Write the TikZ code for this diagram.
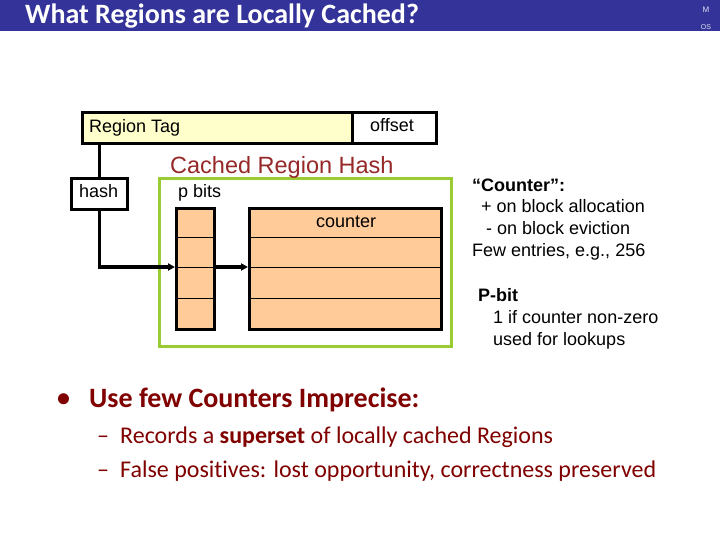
\documentclass[tikz,border=0pt]{standalone}
\usepackage{fontspec}
\setmainfont{Liberation Sans}
\newfontfamily\calib[Ligatures=NoCommon]{Carlito}
\usetikzlibrary{arrows.meta}
\definecolor{titlebar}{RGB}{51,51,153}
\definecolor{tagfill}{RGB}{255,255,204}
\definecolor{cellfill}{RGB}{255,204,153}
\definecolor{greenbox}{RGB}{153,204,51}
\definecolor{hashred}{RGB}{150,40,40}
\definecolor{bulletred}{RGB}{128,0,0}
\tikzset{
  fld/.style={draw, line width=3.3pt, inner sep=0pt, anchor=north west},
  lbl/.style={inner sep=0pt, anchor=base west, font=\fontsize{18}{21}\selectfont},
  thick3/.style={line width=3.3pt},
  tip/.style={-{Triangle[length=7pt,width=7pt]}},
  rowline/.style={line width=1pt},
  btext/.style={inner sep=0pt, anchor=base west, text=bulletred},
}
\begin{document}
\begin{tikzpicture}[x=1pt,y=-1pt]
\useasboundingbox (0,0) rectangle (720,540);
\fill[white] (0,0) rectangle (720,540);
% title bar
\fill[titlebar] (0,0) rectangle (720,31);
\node[inner sep=0pt, anchor=base west, text=white, font=\calib\bfseries\fontsize{28}{32}\selectfont] (title) at (25,24) {What Regions are Locally Cached?};
\node[inner sep=0pt, text=white!85!titlebar, font=\fontsize{8}{9}\selectfont] (m) at (706,10) {M};
\node[inner sep=0pt, text=white!85!titlebar, font=\fontsize{7}{8}\selectfont] (os) at (706,27) {OS};

% address fields
\node[fld, fill=tagfill, minimum width=270pt, minimum height=31pt] (tag) at (81,111) {};
\node[fld, fill=white, minimum width=84pt, minimum height=31pt] (off) at (351,111) {};
\node[lbl] (taglbl) at (89,133) {Region Tag};
\node[lbl] (offlbl) at (370,132) {offset};

% hash
\node[fld, fill=white, minimum width=56pt, minimum height=31pt] (hash) at (70,177) {};
\node[lbl] (hashlbl) at (79,198) {hash};

% green enclosure
\node[draw=greenbox, line width=3.3pt, inner sep=0pt, anchor=north west, minimum width=292pt, minimum height=168pt] (green) at (158,177) {};
\node[inner sep=0pt, anchor=base west, text=hashred, font=\fontsize{23.5}{27}\selectfont] (crh) at (170,174) {Cached Region Hash};
\node[lbl] (pbitslbl) at (178,197) {p bits};

% p bits table
\node[fld, fill=cellfill, minimum width=38pt, minimum height=121pt] (pb) at (175,207) {};
% counter table
\node[fld, fill=cellfill, minimum width=192pt, minimum height=121pt] (ct) at (248,207) {};
\node[lbl] (ctlbl) at (316,227) {counter};
\foreach \yy in {237,267,298}{
  \draw[rowline] (pb.west |- 0,\yy) -- (pb.east |- 0,\yy);
  \draw[rowline] (ct.west |- 0,\yy) -- (ct.east |- 0,\yy);
}
\coordinate (pbrow) at (pb.west |- 0,267);
\coordinate (pbout) at (pb.east |- 0,267);
\coordinate (ctrow) at (ct.west |- 0,267);

% connectors
\draw[thick3] (tag.south -| hash.north) -- (hash.north);
\draw[thick3, tip] (hash.south) |- (pbrow);
\draw[thick3, tip] (pbout) -- (ctrow);

% notes
\node[lbl, font=\bfseries\fontsize{18}{21}\selectfont] (n1) at (472,192) {“Counter”:};
\node[lbl] (n2) at (481,213) {+ on block allocation};
\node[lbl] (n3) at (486,234) {- on block eviction};
\node[lbl] (n4) at (472,256) {Few entries, e.g., 256};
\node[lbl, font=\bfseries\fontsize{18}{21}\selectfont] (n5) at (478,301) {P-bit};
\node[lbl] (n6) at (493,323) {1 if counter non-zero};
\node[lbl] (n7) at (493,345) {used for lookups};

% bullets
\node[btext, font=\calib\bfseries\fontsize{26}{30}\selectfont] (b0) at (57,406) {•};
\node[btext, font=\calib\bfseries\fontsize{28}{32}\selectfont] (b1) at (89,407) {Use few Counters Imprecise:};
\node[btext, font=\calib\fontsize{24}{28}\selectfont] (d1) at (97,443) {–};
\node[btext, font=\calib\fontsize{24}{28}\selectfont] (s1) at (120,443) {Records a \textbf{superset} of locally cached Regions};
\node[btext, font=\calib\fontsize{24}{28}\selectfont] (d2) at (97,477) {–};
\node[btext, font=\calib\fontsize{24}{28}\selectfont] (s2) at (120,477) {False positives: lost opportunity, correctness preserved};
\end{tikzpicture}
\end{document}
